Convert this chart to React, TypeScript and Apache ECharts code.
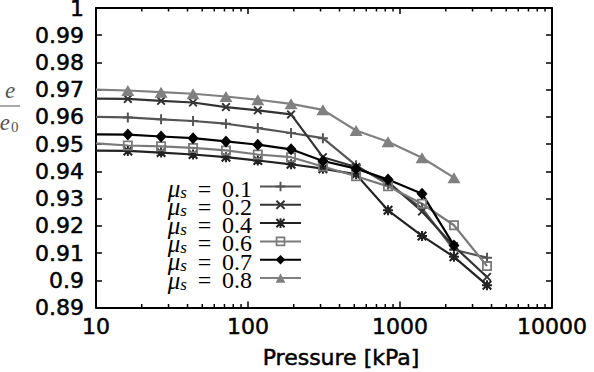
import React, { useEffect, useRef } from 'react';
import * as echarts from 'echarts';

// Pressure [kPa] at which each sample was taken
const pressures = [10, 16.2, 26.8, 43.5, 71.6, 116, 192, 311, 514, 834, 1396, 2265, 3735];

// e / e0 for each friction coefficient
const mu01 = [0.960, 0.9598, 0.9591, 0.9585, 0.9575, 0.9559, 0.9541, 0.9522, 0.9422, 0.9352, 0.9265, 0.9112, 0.9083];
const mu02 = [0.9667, 0.9666, 0.9659, 0.9653, 0.9636, 0.9624, 0.9609, 0.9452, 0.9416, 0.9362, 0.9253, 0.9125, 0.9012];
const mu04 = [0.9476, 0.9475, 0.9469, 0.9462, 0.9452, 0.944, 0.9426, 0.941, 0.9389, 0.9257, 0.9163, 0.9086, 0.8982];
const mu06 = [0.9503, 0.9495, 0.9492, 0.9486, 0.9477, 0.9462, 0.9452, 0.9418, 0.9382, 0.9345, 0.9281, 0.9202, 0.9052];
const mu07 = [0.9536, 0.9535, 0.9528, 0.9522, 0.951, 0.9498, 0.9481, 0.9438, 0.941, 0.937, 0.9318, 0.9128];
const mu08 = [0.970, 0.9697, 0.9691, 0.9685, 0.9675, 0.9663, 0.9648, 0.9626, 0.955, 0.9509, 0.945, 0.9377];

const muLabels = ['0.1', '0.2', '0.4', '0.6', '0.7', '0.8'];
const seriesValues = [mu01, mu02, mu04, mu06, mu07, mu08];

const xTickValues = [10, 100, 1000, 10000];
const minorMultipliers = [2, 3, 4, 5, 6, 7, 8, 9];

const PLUS = 'path://M4,0H6V4H10V6H6V10H4V6H0V4H4Z';
const CROSS = 'path://M0,1.5L1.5,0L5,3.5L8.5,0L10,1.5L6.5,5L10,8.5L8.5,10L5,6.5L1.5,10L0,8.5L3.5,5Z';
const STAR = 'path://M4,0H6V4H10V6H6V10H4V6H0V4H4Z M0,1.5L1.5,0L5,3.5L8.5,0L10,1.5L6.5,5L10,8.5L8.5,10L5,6.5L1.5,10L0,8.5L3.5,5Z';
const BOX = 'path://M0,0H10V10H0Z M1.8,1.8V8.2H8.2V1.8Z';

const styles = [
  { color: '#555555', symbol: PLUS, size: 10 },
  { color: '#333333', symbol: CROSS, size: 9 },
  { color: '#222222', symbol: STAR, size: 10 },
  { color: '#7a7a7a', symbol: BOX, size: 10 },
  { color: '#000000', symbol: 'diamond', size: [11, 12] },
  { color: '#808080', symbol: 'triangle', size: [13, 11] },
];

const SANS = 'DejaVu Sans';
const SERIF = 'Liberation Serif';

export default function App() {
  const ref = useRef<HTMLDivElement>(null);

  useEffect(() => {
    document.body.style.margin = '0';
    const chart = echarts.init(ref.current!, null, { renderer: 'svg' });

    const series = muLabels.map((name, si) => {
      const vals = seriesValues[si];
      const st = styles[si];
      return {
        name,
        type: 'line',
        silent: true,
        clip: true,
        symbol: st.symbol,
        symbolSize: st.size,
        lineStyle: { color: st.color, width: 2.2 },
        itemStyle: { color: st.color, borderWidth: 0 },
        data: vals.map((v, i) =>
          i === 0 ? { value: [pressures[i], v], symbol: 'none' } : [pressures[i], v]
        ),
      };
    });

    const axisLineStyle = { color: '#000', width: 2 };
    const labelFont = {
      color: '#000', fontSize: 22, fontFamily: SANS,
      textBorderColor: '#000', textBorderWidth: 0.5,
    };

    const baseGraphic: any[] = [
      {
        id: 'ynum', type: 'text', x: 10, y: 90,
        style: { text: 'e', font: `italic 23px "${SERIF}"`, fill: '#555', align: 'center', verticalAlign: 'middle' },
      },
      {
        id: 'ybar', type: 'line',
        shape: { x1: 0, y1: 106, x2: 20, y2: 106 },
        style: { stroke: '#555', lineWidth: 1 },
      },
      {
        id: 'yden', type: 'text', x: 10, y: 122,
        style: { text: 'e', font: `italic 23px "${SERIF}"`, fill: '#555', align: 'right', verticalAlign: 'middle' },
      },
      {
        id: 'yden0', type: 'text', x: 11, y: 127,
        style: { text: '0', font: `15px "${SERIF}"`, fill: '#555', align: 'left', verticalAlign: 'middle' },
      },
      {
        id: 'xname', type: 'text', x: 341, y: 357,
        style: {
          text: 'Pressure [kPa]', font: `22px "${SANS}"`, fill: '#000',
          stroke: '#000', lineWidth: 0.5, align: 'center', verticalAlign: 'middle',
        },
      },
    ];

    const option: any = {
      animation: false,
      backgroundColor: '#fff',
      grid: { left: 96, top: 8, width: 456, height: 299.5, outerBoundsMode: 'none' },
      xAxis: [
        {
          type: 'log', logBase: 10, min: 10, max: 10000,
          position: 'bottom',
          axisLine: { show: true, onZero: false, lineStyle: axisLineStyle },
          axisTick: { show: true, inside: true, length: 6, lineStyle: { color: '#000', width: 1.5 } },
          axisLabel: {
            show: true, margin: 8, ...labelFont,
            formatter: (v: number) => String(Math.round(v)),
          },
          splitLine: { show: false },
          data: xTickValues,
        },
        {
          type: 'log', logBase: 10, min: 10, max: 10000,
          position: 'top',
          axisLine: { show: true, onZero: false, lineStyle: axisLineStyle },
          axisTick: { show: true, inside: true, length: 6, lineStyle: { color: '#000', width: 1.5 } },
          axisLabel: { show: false },
          splitLine: { show: false },
        },
      ],
      yAxis: [
        {
          type: 'value', min: 0.89, max: 1, interval: 0.01,
          position: 'left',
          axisLine: { show: true, onZero: false, lineStyle: axisLineStyle },
          axisTick: { show: true, inside: true, length: 6, lineStyle: { color: '#000', width: 1.5 } },
          axisLabel: {
            show: true, margin: 12, ...labelFont, lineHeight: 10, padding: [5, 0, 0, 0],
            formatter: (v: number) => String(Math.round(v * 100) / 100),
          },
          splitLine: { show: false },
        },
        {
          type: 'value', min: 0.89, max: 1, interval: 0.01,
          position: 'right',
          axisLine: { show: true, onZero: false, lineStyle: axisLineStyle },
          axisTick: { show: true, inside: true, length: 6, lineStyle: { color: '#000', width: 1.5 } },
          axisLabel: { show: false },
          splitLine: { show: false },
        },
      ],
      legend: {
        show: true,
        orient: 'vertical',
        align: 'right',
        right: 292,
        top: 172,
        padding: 0,
        itemGap: -10.7,
        itemWidth: 41,
        itemHeight: 12,
        selectedMode: false,
        data: muLabels,
        formatter: (name: string) => `{m|\u03bc}{s|s}{t|\u00a0\u2009=\u00a0\u2009${name}}`,
        textStyle: {
          color: '#000',
          lineHeight: 19,
          rich: {
            m: { fontFamily: SERIF, fontStyle: 'italic', fontSize: 25, lineHeight: 19, padding: [4, 0, 0, 0], color: '#000' },
            s: { fontFamily: SERIF, fontStyle: 'italic', fontSize: 17, lineHeight: 19, padding: [12, 0, 0, 0], color: '#000' },
            t: { fontFamily: SERIF, fontSize: 24, lineHeight: 19, color: '#000', padding: [4, 3, 0, 0] },
          },
        },
      },
      graphic: baseGraphic,
      series,
    };

    chart.setOption(option);

    // log-scale minor ticks (2..9 per decade) on bottom and top frame
    const yBottom = chart.convertToPixel({ yAxisIndex: 0 }, 0.89) as number;
    const yTop = chart.convertToPixel({ yAxisIndex: 0 }, 1) as number;
    const minor: any[] = [];
    [10, 100, 1000].forEach((d) => {
      minorMultipliers.forEach((m) => {
        const x = chart.convertToPixel({ xAxisIndex: 0 }, m * d) as number;
        minor.push({
          id: `mb${d}_${m}`, type: 'line', silent: true,
          shape: { x1: x, y1: yBottom, x2: x, y2: yBottom - 3.5 },
          style: { stroke: '#000', lineWidth: 1.5 },
        });
        minor.push({
          id: `mt${d}_${m}`, type: 'line', silent: true,
          shape: { x1: x, y1: yTop, x2: x, y2: yTop + 3.5 },
          style: { stroke: '#000', lineWidth: 1.5 },
        });
      });
    });
    chart.setOption({ graphic: [...baseGraphic, ...minor] });

    return () => chart.dispose();
  }, []);

  return <div ref={ref} style={{ width: 594, height: 372 }} />;
}
